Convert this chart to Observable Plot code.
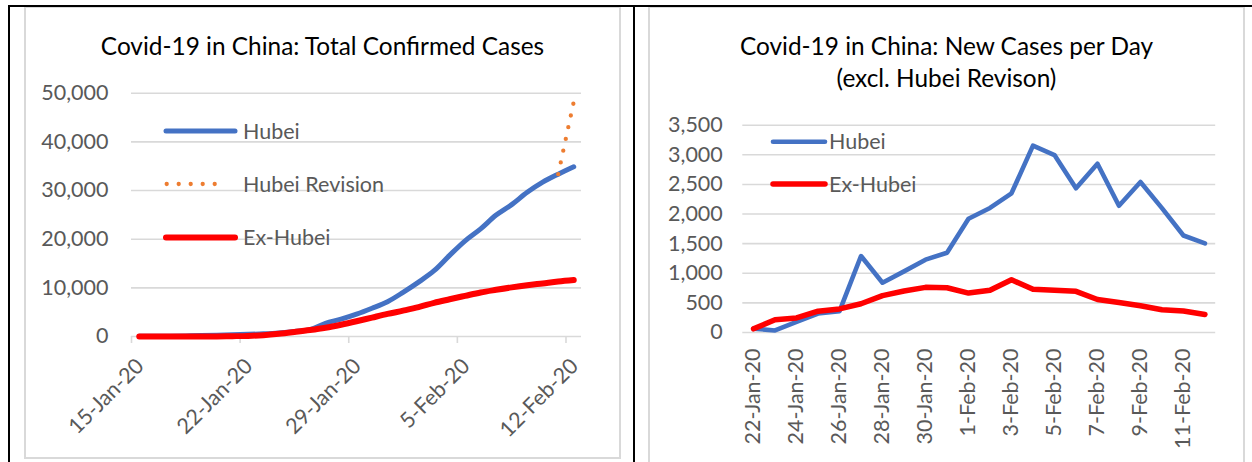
<!DOCTYPE html>
<html><head><meta charset="utf-8">
<script src="https://cdn.jsdelivr.net/npm/d3@7"></script>
<script src="https://cdn.jsdelivr.net/npm/@observablehq/plot@0.6"></script>
<style>
body{margin:0;background:#fff;}
#wrap{position:relative;width:1252px;height:462px;overflow:hidden;font-family:Lato,sans-serif;background:#fff;}
.box{position:absolute;box-sizing:border-box;border:2px solid #d9d9d9;}
.blk{position:absolute;background:#000;}
.title{position:absolute;text-align:center;color:#000;font-size:24.4px;line-height:32px;white-space:nowrap;}
.legtxt{position:absolute;color:#595959;font-size:21.5px;line-height:26px;white-space:nowrap;}
.legsvg{position:absolute;overflow:visible;}
.chart{position:absolute;top:0;}
</style></head>
<body>
<div id="wrap">
  <div class="box" style="left:24px;top:6px;width:597px;height:453px"></div>
  <div class="box" style="left:648px;top:6px;width:597px;height:480px"></div>
  <div class="blk" style="left:8px;top:5px;width:1244px;height:2px"></div>
  <div class="blk" style="left:8px;top:5px;width:2px;height:457px"></div>
  <div class="blk" style="left:633px;top:5px;width:2px;height:457px"></div>
  <div class="title" style="left:24px;top:30px;width:597px">Covid-19 in China: Total Confirmed Cases</div>
  <div class="title" style="left:648px;top:30px;width:597px">Covid-19 in China: New Cases per Day<br>(excl. Hubei Revison)</div>
  <div id="left" class="chart" style="left:0px"></div>
  <div id="right" class="chart" style="left:634px"></div>
</div>
<script>
// ---------- Data: total confirmed cases ----------
const totalDates = ["2020-01-15","2020-01-16","2020-01-17","2020-01-18","2020-01-19","2020-01-20","2020-01-21",
  "2020-01-22","2020-01-23","2020-01-24","2020-01-25","2020-01-26","2020-01-27","2020-01-28","2020-01-29",
  "2020-01-30","2020-01-31","2020-02-01","2020-02-02","2020-02-03","2020-02-04","2020-02-05","2020-02-06",
  "2020-02-07","2020-02-08","2020-02-09","2020-02-10","2020-02-11","2020-02-12"];
const hubeiTotal = [41,45,62,121,198,270,375,444,549,729,1052,1423,2714,3554,4586,5806,7153,9074,11177,13522,
  16678,19665,22112,24953,27100,29631,31728,33366,34874];
const exHubeiTotal = [0,0,0,0,3,21,65,127,281,558,923,1321,1801,2420,3125,3886,4638,5306,6028,6916,7646,8353,
  9049,9593,10098,10540,10910,11287,11598];
const revisionDates = ["2020-02-11","2020-02-12"];
const revisionTotal = [33366,48206];
const leftTickLabels = ["2020-01-15","2020-01-22","2020-01-29","2020-02-05","2020-02-12"];
const leftYTicks = [0,10000,20000,30000,40000,50000];

// ---------- Data: new cases per day ----------
const newDates = ["2020-01-22","2020-01-23","2020-01-24","2020-01-25","2020-01-26","2020-01-27","2020-01-28",
  "2020-01-29","2020-01-30","2020-01-31","2020-02-01","2020-02-02","2020-02-03","2020-02-04","2020-02-05",
  "2020-02-06","2020-02-07","2020-02-08","2020-02-09","2020-02-10","2020-02-11","2020-02-12"];
const hubeiNew = [65,35,180,320,360,1291,840,1032,1230,1347,1921,2103,2350,3156,2995,2435,2850,2140,2540,2100,1638,1505];
const exHubeiNew = [62,214,245,360,398,485,622,700,762,755,666,712,890,731,712,695,557,507,451,383,362,305];
const rightTickLabels = ["2020-01-22","2020-01-24","2020-01-26","2020-01-28","2020-01-30","2020-02-01",
  "2020-02-03","2020-02-05","2020-02-07","2020-02-09","2020-02-11"];
const rightYTicks = [0,500,1000,1500,2000,2500,3000,3500];

// ---------- Build ----------
const parse = d3.utcParse("%Y-%m-%d");
const fmt = d3.utcFormat("%-d-%b-%y");
const halfDay = 12 * 3600 * 1000;
const grey = "#595959", gridC = "#d9d9d9";
const blue = "#4472C4", red = "#FF0000", orange = "#ED7D31";
const fs = 21.5;

const totalRows = totalDates.map((d, i) => ({date: parse(d), hubei: hubeiTotal[i], ex: exHubeiTotal[i]}));
const revRows = revisionDates.map((d, i) => ({date: parse(d), v: revisionTotal[i]}));
const leftLabels = leftTickLabels.map(parse);
const leftTickMarks = leftLabels.map(d => new Date(+d - halfDay));

const left = Plot.plot({
  width: 634, height: 462,
  marginLeft: 131, marginRight: 53, marginTop: 92.7, marginBottom: 126,
  style: {fontFamily: "Lato, sans-serif", fontSize: fs + "px", color: grey, background: "transparent", overflow: "visible"},
  x: {type: "utc", domain: [new Date(+totalRows[0].date - halfDay), new Date(+totalRows[totalRows.length - 1].date + halfDay)]},
  y: {domain: [0, 50000]},
  marks: [
    Plot.gridY(leftYTicks, {stroke: gridC, strokeOpacity: 1, strokeWidth: 1.6}),
    Plot.axisY(leftYTicks, {tickSize: 0, tickPadding: 23, tickFormat: d3.format(","), label: null, fill: grey, fontSize: fs}),
    Plot.axisX(leftTickMarks, {tickSize: 7, tickFormat: () => "", label: null, stroke: gridC, strokeWidth: 1.6, strokeOpacity: 1}),
    Plot.text(leftLabels, {x: d => d, frameAnchor: "bottom", dy: 26, dx: 1, rotate: -45, textAnchor: "end", lineAnchor: "middle", text: d => fmt(d), fill: grey, fontSize: fs}),
    Plot.lineY(totalRows, {x: "date", y: "hubei", stroke: blue, strokeWidth: 5, curve: "catmull-rom", strokeLinecap: "round"}),
    Plot.lineY(revRows, {x: "date", y: "v", stroke: orange, strokeWidth: 4.3, strokeDasharray: "0 12", strokeLinecap: "round"}),
    Plot.lineY(totalRows, {x: "date", y: "ex", stroke: red, strokeWidth: 6, curve: "catmull-rom", strokeLinecap: "round"})
  ]
});
document.getElementById("left").appendChild(left);

const newRows = newDates.map((d, i) => ({date: parse(d), hubei: hubeiNew[i], ex: exHubeiNew[i]}));
const rightLabels = rightTickLabels.map(parse);

const right = Plot.plot({
  width: 618, height: 462,
  marginLeft: 108.3, marginRight: 36.8, marginTop: 124.7, marginBottom: 130,
  style: {fontFamily: "Lato, sans-serif", fontSize: fs + "px", color: grey, background: "transparent", overflow: "visible"},
  x: {type: "utc", axis: null, domain: [new Date(+newRows[0].date - halfDay), new Date(+newRows[newRows.length - 1].date + halfDay)]},
  y: {domain: [0, 3500]},
  marks: [
    Plot.gridY(rightYTicks, {stroke: gridC, strokeOpacity: 1, strokeWidth: 1.6}),
    Plot.axisY(rightYTicks, {tickSize: 0, tickPadding: 20, tickFormat: d3.format(","), label: null, fill: grey, fontSize: fs}),
    Plot.text(rightLabels, {x: d => d, frameAnchor: "bottom", dy: 16, rotate: -90, textAnchor: "end", lineAnchor: "middle", text: d => fmt(d), fill: grey, fontSize: fs}),
    Plot.lineY(newRows, {x: "date", y: "hubei", stroke: blue, strokeWidth: 4.6, strokeLinecap: "round", strokeLinejoin: "round"}),
    Plot.lineY(newRows, {x: "date", y: "ex", stroke: red, strokeWidth: 5.5, strokeLinecap: "round", strokeLinejoin: "round"})
  ]
});
document.getElementById("right").appendChild(right);

// ---------- Legends ----------
const wrap = document.getElementById("wrap");
function legend(x0, x1, tx, y, color, width, dash, label) {
  const ns = "http://www.w3.org/2000/svg";
  const s = document.createElementNS(ns, "svg");
  s.setAttribute("class", "legsvg");
  s.setAttribute("width", 1252); s.setAttribute("height", 462);
  s.style.left = "0px"; s.style.top = "0px";
  const l = document.createElementNS(ns, "line");
  l.setAttribute("x1", x0); l.setAttribute("x2", x1);
  l.setAttribute("y1", y); l.setAttribute("y2", y);
  l.setAttribute("stroke", color); l.setAttribute("stroke-width", width);
  l.setAttribute("stroke-linecap", "round");
  if (dash) l.setAttribute("stroke-dasharray", dash);
  s.appendChild(l);
  wrap.appendChild(s);
  const t = document.createElement("div");
  t.className = "legtxt";
  t.style.left = tx + "px"; t.style.top = (y - 13.5) + "px";
  t.textContent = label;
  wrap.appendChild(t);
}
legend(166, 235, 243, 131, blue, 5, null, "Hubei");
legend(166.7, 226.7, 243, 184, orange, 4.3, "0 12", "Hubei Revision");
legend(166, 235, 243, 237.5, red, 6, null, "Ex-Hubei");
legend(773, 825, 829, 141.7, blue, 4.6, null, "Hubei");
legend(773, 825, 829, 184, red, 5.5, null, "Ex-Hubei");
</script>
</body></html>
